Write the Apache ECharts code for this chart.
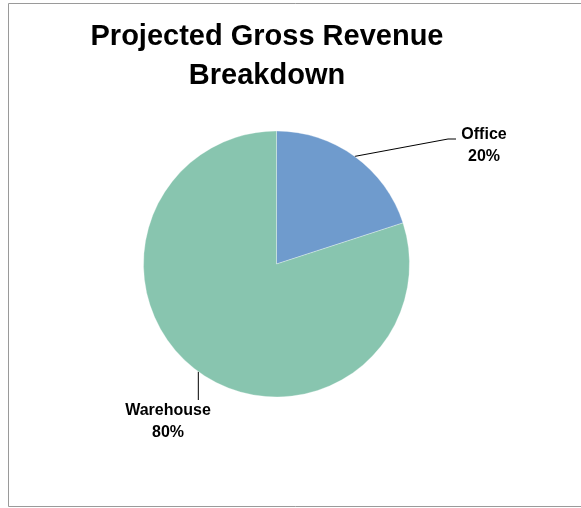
<!DOCTYPE html>
<html>
<head>
<meta charset="utf-8">
<script src="https://cdn.jsdelivr.net/npm/echarts@6/dist/echarts.min.js"></script>
<style>
  html, body { margin: 0; padding: 0; background: #fff; }
  #chart { width: 581px; height: 508px; }
</style>
</head>
<body>
<div id="chart"></div>
<script>
// Revenue split by property type
const categories = ['Office', 'Warehouse'];
const shares = [20, 80];
const sliceColors = ['#6F9BCD', '#88C5AF'];

const chart = echarts.init(document.getElementById('chart'), null, { renderer: 'canvas' });

const FONT = '"Liberation Sans", Arial, sans-serif';

// Where each label sits and how its leader bends (null x = straight down from the slice edge)
const labelSpots = {
  Office: { x: 484, y: 146, elbow: [[448, 139], [456, 139]] },
  Warehouse: { x: 168, y: 422, elbow: [[null, 386], [null, 400]] }
};

chart.setOption({
  animation: false,
  backgroundColor: '#fff',
  title: {
    text: 'Projected Gross Revenue\nBreakdown',
    left: 262,
    top: 12,
    textAlign: 'center',
    textStyle: {
      fontFamily: FONT,
      fontSize: 29,
      fontWeight: 'bold',
      color: '#000',
      lineHeight: 39
    }
  },
  graphic: [{
    type: 'rect',
    shape: { x: 8.5, y: 3.5, width: 600, height: 503 },
    style: { fill: null, stroke: '#9a9a9a', lineWidth: 1 },
    silent: true,
    z: 0
  }],
  series: [{
    type: 'pie',
    center: [276.5, 264],
    radius: 133,
    startAngle: 90,
    clockwise: true,
    silent: true,
    itemStyle: { borderColor: 'rgba(255,255,255,0.6)', borderWidth: 0.5 },
    data: categories.map((name, i) => ({
      name,
      value: shares[i],
      itemStyle: { color: sliceColors[i] }
    })),
    label: {
      show: true,
      position: 'outside',
      formatter: '{b}\n{d}%',
      fontFamily: FONT,
      fontSize: 16,
      fontWeight: 'bold',
      color: '#000',
      lineHeight: 22,
      align: 'center'
    },
    labelLine: {
      show: true,
      length: 20,
      length2: 10,
      lineStyle: { color: '#000', width: 1 }
    },
    labelLayout: function (params) {
      const name = categories[params.dataIndex];
      const spot = labelSpots[name];
      const start = params.labelLinePoints ? params.labelLinePoints[0] : null;
      const out = {
        x: spot.x,
        y: spot.y,
        align: 'center',
        verticalAlign: 'middle'
      };
      if (start) {
        const pts = spot.elbow.map(p => [p[0] === null ? start[0] : p[0], p[1]]);
        out.labelLinePoints = [start, pts[0], pts[1]];
      }
      return out;
    }
  }]
});
</script>
</body>
</html>
